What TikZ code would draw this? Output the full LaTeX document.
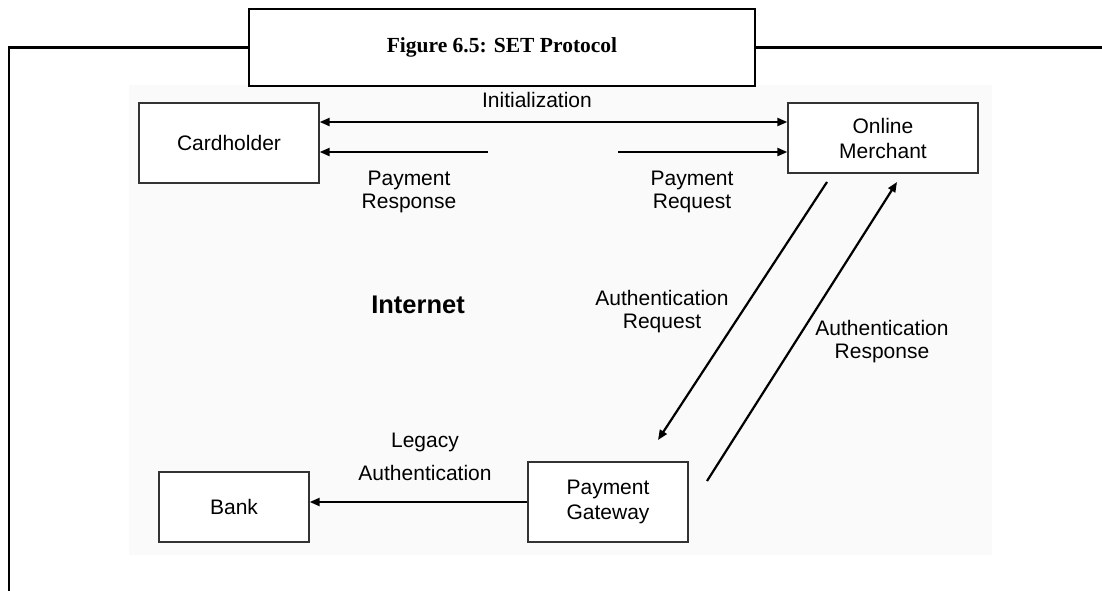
\documentclass[tikz,border=0pt]{standalone}
\usepackage{fontspec}
\setmainfont{Liberation Sans}
\newfontfamily\capfont{Liberation Serif}
\usetikzlibrary{arrows.meta}
\definecolor{bgpanel}{RGB}{250,250,250}
\begin{document}
\begin{tikzpicture}[x=1pt,y=-1pt,
  box/.style={draw=black!80, line width=1.3pt, fill=white, inner sep=0pt,
    font=\fontsize{21}{25}\selectfont, align=center},
  lbl/.style={font=\fontsize{21}{23}\selectfont, align=center, inner sep=0pt},
  tip/.tip={Triangle[length=10pt,width=8pt]},
  arr/.style={line width=2.2pt, -tip},
  framel/.style={line width=2.5pt}]
\useasboundingbox (0,0) rectangle (1102,590);
\fill[bgpanel] (129,85) rectangle (992,555);
% caption and frame
\node[draw, line width=2.5pt, minimum width=506pt, minimum height=77pt, inner sep=0pt,
  font=\capfont\bfseries\fontsize{21.5}{24}\selectfont] (cap) at (502,47.5) {Figure 6.5: SET Protocol};
\draw[framel] (cap.west) -- (9,47.5) -- (9,592);
\draw[framel] (cap.east) -- (1104,47.5);
% boxes
\node[box, minimum width=180pt, minimum height=80pt] (card) at (229,143) {Cardholder};
\node[box, minimum width=190pt, minimum height=70pt] (merch) at (883,138) {Online\\Merchant};
\node[box, minimum width=160pt, minimum height=80pt] (gate) at (608,502) {Payment\\Gateway};
\node[box, minimum width=150pt, minimum height=70pt] (bank) at (234,507) {Bank};
% free ends
\coordinate (prsp) at (488,152);
\coordinate (preq) at (618,152);
\coordinate (arq1) at (827,182);
\coordinate (arq2) at (658,440);
\coordinate (ars1) at (707,481);
\coordinate (ars2) at (897,182);
% arrows
\draw[arr, tip-tip] ([yshift=21pt]card.east) -- ([yshift=16pt]merch.west);
\draw[arr] (prsp) -- ([yshift=-9pt]card.east);
\draw[arr] (preq) -- ([yshift=-14pt]merch.west);
\draw[arr] (arq1) -- (arq2);
\draw[arr] (ars1) -- (ars2);
\draw[arr] (gate.west) -- (gate.west -| bank.east);
% labels
\node[lbl] (linit) at (537,100) {Initialization};
\node[lbl] (lprsp) at (409,192) {Payment\\Response};
\node[lbl] (lpreq) at (692,192) {Payment\\Request};
\node[lbl, font=\bfseries\fontsize{25.5}{28}\selectfont] (lnet) at (418,305) {Internet};
\node[lbl] (larq) at (662,311.5) {Authentication\\Request};
\node[lbl] (lars) at (882,341.5) {Authentication\\Response};
\node[lbl, font=\fontsize{21}{33}\selectfont] (lleg) at (425,456.5) {Legacy\\Authentication};
\end{tikzpicture}
\end{document}
